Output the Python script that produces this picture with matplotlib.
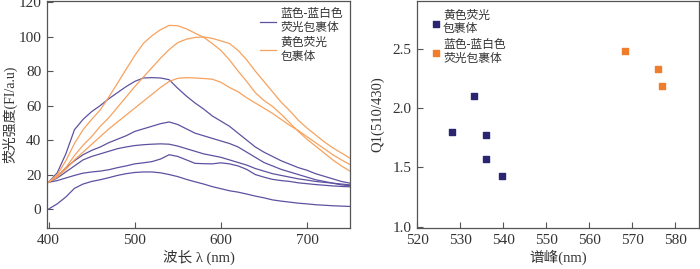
import matplotlib
matplotlib.use('Agg')
import matplotlib.pyplot as plt
import numpy as np

plt.rcParams['font.family'] = ['Liberation Serif', 'Noto Sans CJK SC']

# spectra, wavelength (nm) and fluorescence intensity
wl = [400, 410, 420, 430, 440, 450, 460, 470, 480, 490, 500, 510, 520, 530, 540,
      550, 560, 570, 580, 590, 600, 610, 620, 630, 640, 650, 660, 670, 680, 690,
      700, 710, 720, 730, 740, 750]

blue_1 = [15.5, 21, 32, 46, 52, 56.5, 60, 64, 67.5, 71, 74, 76, 76.2, 76, 75,
          70, 65.5, 61.5, 58, 54, 51, 48, 44, 40, 36, 33, 30.5, 28, 26, 24,
          22.5, 20.5, 19, 17.5, 16, 15]
blue_2 = [15.5, 19, 24, 28, 31.5, 34, 36, 38.5, 40.5, 42.5, 45, 46.5, 48, 49.5, 50.5,
          49, 46.5, 44, 42.5, 41, 39.5, 38, 36, 33, 30, 27, 25, 23, 21.5, 20,
          18.5, 17, 16, 15, 14, 13.5]
blue_3 = [15.5, 18, 21.5, 25, 28.5, 30.5, 32, 33.5, 35, 36, 36.8, 37.3, 37.6, 37.8, 37.6,
          36.5, 35, 33.5, 32, 31, 30, 28.5, 27, 25.5, 23.5, 22, 20.5, 19.5, 18.5, 17.5,
          16.8, 16, 15.5, 15, 14.5, 14]
blue_4 = [15.5, 16.5, 18, 19.5, 20.8, 21.5, 22, 22.8, 24, 25, 26.2, 26.8, 27.5, 29, 31.5,
          30.5, 28.5, 26.5, 26.3, 26.2, 26.8, 26.2, 25, 23, 20, 18.5, 17.2, 16.5, 16, 15.2,
          14.7, 14.2, 13.8, 13.4, 13.1, 12.9]
blue_5 = [0, 3, 7, 12, 14.5, 16, 17, 18.2, 19.5, 20.5, 21.2, 21.5, 21.5, 21, 20,
          18.8, 17.2, 15.8, 14.5, 13, 11.8, 10.6, 9.8, 8.7, 7.5, 6.5, 5.3, 4.6, 4, 3.4,
          3, 2.5, 2.2, 1.9, 1.7, 1.5]

yellow_1 = [15.5, 20, 28, 38, 46, 52, 57.5, 65, 73, 81, 89, 96, 100.5, 104, 106.5,
            106.3, 104.5, 102, 99.6, 96, 92, 86.5, 80, 74, 67.5, 63, 59.5, 55, 50, 45,
            40.5, 36.5, 32.5, 28.5, 25, 22]
yellow_2 = [15.5, 19, 24, 31, 37, 42, 48, 53, 59, 65, 71, 76.5, 82, 87.5, 92.5,
            96.5, 98.5, 99.5, 99.8, 99, 97.5, 96, 92, 86.5, 80, 74, 68, 62, 57, 51.5,
            47, 43, 39, 35.5, 32.5, 29.5]
yellow_3 = [15.5, 18.5, 23, 28.5, 33, 37.5, 42, 46.5, 50.5, 54.5, 58.5, 62.5, 66.5, 70.5, 74,
            75.8, 76.2, 76, 75.7, 75.3, 73.5, 70.5, 68, 64.5, 61.5, 58.5, 55.5, 52, 48.5, 45.5,
            42, 38.5, 35, 31.5, 28.5, 25.8]

# peak position vs Q1 ratio
peak_navy = [528.0, 533.3, 535.9, 536.1, 539.7]
q1_navy = [1.80, 2.10, 1.775, 1.575, 1.43]
peak_orange = [568.3, 576.0, 576.8]
q1_orange = [2.48, 2.33, 2.185]

line_blue = '#5e52a0'
line_orange = '#f7a25e'
dot_navy = '#2b2470'
dot_orange = '#ef7d2c'
spine_col = '#555555'
text_col = '#333333'

fig = plt.figure(figsize=(7.0, 2.69), dpi=100)
ax1 = fig.add_axes([0.067, 0.1524, 0.433, 0.843])
ax2 = fig.add_axes([0.596, 0.1524, 0.4026, 0.843])

for i, ys in enumerate([blue_1, blue_2, blue_3, blue_4, blue_5]):
    ax1.plot(wl, ys, color=line_blue, lw=0.9, label='蓝色-蓝白色\n荧光包裹体' if i == 0 else None)
for i, ys in enumerate([yellow_1, yellow_2, yellow_3]):
    ax1.plot(wl, ys, color=line_orange, lw=0.9, label='黄色荧光\n包裹体' if i == 0 else None)

ax1.set_xlim(398, 750)
ax1.set_ylim(-11, 120.5)
ax1.set_xticks([400, 500, 600, 700])
ax1.set_yticks([0, 20, 40, 60, 80, 100, 120])
ax1.set_xlabel('波长 λ (nm)', fontsize=10.5, color=text_col, labelpad=2)
ax1.set_ylabel('荧光强度(FI/a.u)', fontsize=10, color=text_col)
ax1.yaxis.set_label_coords(-0.098, 0.5)
leg1 = ax1.legend(loc='upper right', bbox_to_anchor=(1.0, 1.0), frameon=False, fontsize=8.5,
                  handlelength=1.3, handletextpad=0.4, labelspacing=0.25, borderaxespad=0.2)
for t in leg1.get_texts():
    t.set_color(text_col)

ax2.scatter(peak_navy, q1_navy, marker='s', s=20, color=dot_navy, label='黄色荧光\n包裹体')
ax2.scatter(peak_orange, q1_orange, marker='s', s=20, color=dot_orange, label='蓝色-蓝白色\n荧光包裹体')
ax2.set_xlim(520, 585.5)
ax2.set_ylim(0.99, 2.9)
ax2.set_xticks([520, 530, 540, 550, 560, 570, 580])
ax2.set_yticks([1.0, 1.5, 2.0, 2.5])
ax2.set_yticklabels(['1.0', '1.5', '2.0', '2.5'])
ax2.set_xlabel('谱峰(nm)', fontsize=10.5, color=text_col, labelpad=2)
ax2.set_ylabel('Q1(510/430)', fontsize=10.5, color=text_col, labelpad=6)
leg2 = ax2.legend(loc='upper left', bbox_to_anchor=(0.025, 1.0), frameon=False, fontsize=8.5,
                  handlelength=0.6, handletextpad=0.3, labelspacing=0.3, borderaxespad=0.3,
                  markerscale=0.9)
for t in leg2.get_texts():
    t.set_color(text_col)

for ax in (ax1, ax2):
    for sp in ax.spines.values():
        sp.set_color(spine_col)
        sp.set_linewidth(0.9)
    ax.tick_params(direction='in', length=4, width=0.8, color=spine_col,
                   labelsize=11, labelcolor=text_col, pad=4)

fig.savefig('out.png', dpi=100)
